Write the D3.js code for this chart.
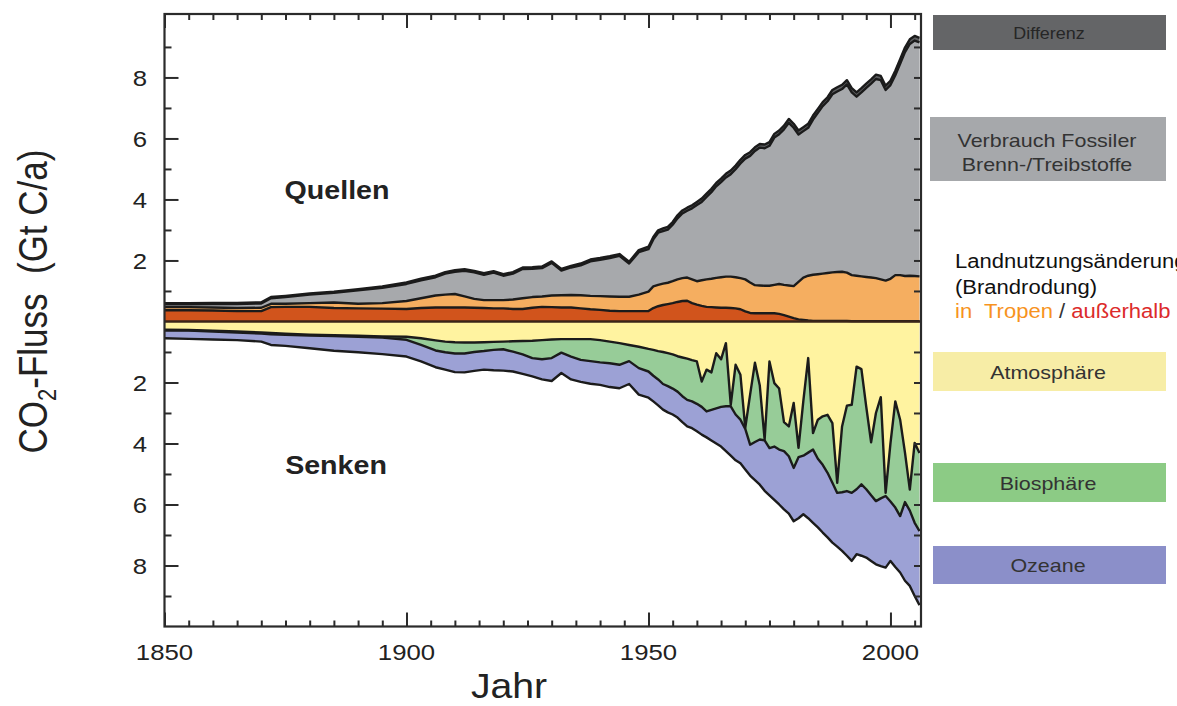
<!DOCTYPE html>
<html>
<head>
<meta charset="utf-8">
<script src="https://cdn.jsdelivr.net/npm/d3@7"></script>
<style>
	body { margin: 0; background: #fff; }
	svg { display: block; }
	text { font-family: "Liberation Sans", Arial, Helvetica, sans-serif; }
</style>
</head>
<body>
<svg id="chart" width="1177" height="706"></svg>
<script>
// Jahre (bis 1950 grob, danach jährlich)
var years = [1850,1855,1860,1865,1870,1872,1875,1880,1885,1890,1895,1900,1903,1906,
	1908,1910,1912,1914,1916,1918,1920,1922,1924,1926,1928,1930,1932,1934,1936,1938,1940,1942,1944,1946,1948,1950,
	1951,1952,1953,1954,1955,1956,1957,1958,1959,1960,
	1961,1962,1963,1964,1965,1966,1967,1968,1969,1970,
	1971,1972,1973,1974,1975,1976,1977,1978,1979,1980,
	1981,1982,1983,1984,1985,1986,1987,1988,1989,1990,
	1991,1992,1993,1994,1995,1996,1997,1998,1999,2000,
	2001,2002,2003,2004,2005,2006];

// Quellen (Gt C/a)
var ausserhalb = [.37,.37,.36,.34,.34,.47,.48,.48,.44,.43,.42,.41,.44,.46,
	.46,.46,.46,.45,.44,.43,.43,.41,.41,.45,.48,.47,.46,.46,.43,.40,.38,.35,.34,.34,.34,.34,
	.44,.50,.54,.57,.60,.64,.67,.68,.60,.55,
	.51,.48,.47,.46,.45,.45,.44,.43,.40,.33,
	.28,.27,.27,.27,.27,.27,.25,.21,.16,.11,
	.07,.05,.03,.02,.02,.02,.02,.02,.02,.02,
	.02,.01,.01,.01,.01,.01,.01,.01,.01,.01,
	.01,.01,.01,.01,.01,.01];
var tropen = [.10,.10,.10,.10,.11,.11,.10,.12,.18,.15,.18,.26,.32,.39,
	.42,.44,.36,.29,.26,.27,.27,.31,.35,.35,.34,.38,.40,.41,.43,.44,.45,.47,.47,.47,.54,.64,
	.71,.70,.70,.70,.72,.74,.75,.76,.78,.77,
	.84,.90,.93,.97,1.00,1.02,1.03,1.02,1.02,1.05,
	1.00,.92,.91,.90,.90,.93,.98,.99,1.02,1.05,
	1.23,1.39,1.47,1.51,1.53,1.55,1.57,1.59,1.60,1.61,
	1.58,1.51,1.49,1.47,1.45,1.43,1.41,1.37,1.33,1.39,
	1.51,1.51,1.48,1.49,1.48,1.47];
var fossil = [.09,.09,.11,.13,.14,.18,.22,.28,.32,.44,.50,.56,.59,.60,
	.69,.73,.84,.87,.83,.90,.80,.85,.96,.93,.93,1.07,.81,.90,.98,1.13,1.19,1.26,1.34,1.09,1.39,1.39,
	1.54,1.71,1.72,1.74,1.85,2.00,2.12,2.19,2.33,2.50,
	2.57,2.70,2.84,3.00,3.12,3.25,3.36,3.54,3.76,3.96,
	4.15,4.40,4.52,4.51,4.59,4.83,4.91,5.10,5.33,5.19,
	4.83,4.80,4.85,5.09,5.29,5.49,5.63,5.84,5.92,5.99,
	6.17,5.99,5.87,6.03,6.20,6.36,6.53,6.53,6.25,6.35,
	6.55,6.93,7.34,7.60,7.72,7.67];
var differenz = [.04,.04,.04,.04,.04,.04,.04,.04,.04,.04,.05,.05,.05,.05,
	.05,.05,.05,.05,.05,.05,.05,.05,.05,.05,.05,.05,.05,.05,.06,.06,.06,.06,.06,.06,.07,.08,
	.08,.08,.09,.09,.09,.10,.10,.10,.10,.10,
	.11,.11,.11,.11,.11,.12,.12,.12,.12,.12,
	.12,.12,.12,.12,.12,.12,.12,.12,.13,.13,
	.13,.13,.13,.13,.13,.13,.13,.14,.14,.14,
	.14,.14,.14,.14,.14,.14,.14,.14,.14,.14,
	.15,.15,.15,.15,.15,.15];

// Senken (Gt C/a)
var atmosphaere = [.27,.28,.30,.33,.36,.38,.40,.43,.45,.47,.49,.50,.55,.62,
	.66,.68,.69,.69,.68,.67,.66,.65,.64,.63,.61,.59,.58,.58,.58,.58,.61,.66,.71,.77,.83,.90,
	.93,.97,1.00,1.04,1.08,1.14,1.18,1.22,1.27,1.31,
	1.97,1.58,1.67,1.04,1.24,.71,2.73,1.42,1.75,3.49,
	2.40,1.35,2.10,3.87,1.31,2.02,2.20,3.30,3.44,2.67,
	4.14,2.60,1.20,3.66,3.22,3.11,3.06,3.33,5.29,3.44,
	2.76,2.73,1.48,1.56,2.80,3.96,3.00,2.48,5.62,4.00,
	2.62,3.22,4.30,5.51,3.98,4.31];
var biosphaere = [.03,.02,.03,.03,.04,.04,.04,.03,.03,.03,.04,.10,.22,.33,
	.35,.37,.36,.31,.29,.26,.25,.34,.44,.57,.63,.61,.44,.57,.68,.72,.73,.71,.71,.53,.70,.74,
	.85,.93,1.05,1.08,1.12,1.16,1.27,1.35,1.35,1.39,
	.83,1.37,1.23,1.81,1.56,2.07,.05,1.63,1.47,.03,
	1.64,2.60,1.77,.03,2.84,2.08,2.00,.95,.98,2.13,
	.31,1.80,3.10,.54,1.28,1.59,1.90,1.96,.33,2.16,
	2.80,2.89,4.02,3.78,2.70,1.74,2.89,3.32,.10,1.90,
	3.48,3.16,1.62,.69,2.62,2.56];
var ozeane = [.25,.27,.26,.25,.26,.35,.36,.42,.48,.51,.54,.55,.54,.55,
	.57,.61,.62,.62,.61,.67,.70,.65,.64,.60,.66,.75,.67,.75,.72,.74,.74,.78,.77,.75,.87,.86,
	.84,.85,.84,.86,.85,.85,.85,.87,.88,.90,
	.91,.85,1.00,1.15,1.30,1.47,1.62,1.50,1.43,1.33,
	1.01,1.25,1.48,1.65,1.55,1.75,1.80,1.91,1.88,1.75,
	2.00,1.92,2.15,2.40,2.25,2.22,2.12,1.96,1.76,1.92,
	2.12,2.23,2.13,2.34,2.24,2.15,2.07,2.22,2.35,1.95,
	1.95,1.85,2.58,2.47,2.40,2.43];

// Achsenbeschriftung
var xTickLabels = [1850, 1900, 1950, 2000];
var yTickLabels = [8, 6, 4, 2, -2, -4, -6, -8];

var fills = {
	ausserhalb: "#d1541c",
	tropen: "#f5ae60",
	fossil: "#a7a9ac",
	differenz: "#5e5f61",
	atmosphaere: "#fff3a0",
	biosphaere: "#97cc98",
	ozeane: "#9ca1d5"
};

var plotLeft = 164.5, plotRight = 921, plotTop = 14, plotBottom = 626.5;

var x = d3.scaleLinear().domain([1850, 2006]).range([plotLeft, 919.5]);
var y = d3.scaleLinear().domain([-10, 10.08]).range([plotBottom, plotTop]);

var svg = d3.select("#chart");

var rows = years.map(function(yr, i) {
	return {
		year: yr,
		ausserhalb: ausserhalb[i], tropen: tropen[i], fossil: fossil[i], differenz: differenz[i],
		atmosphaere: atmosphaere[i], biosphaere: biosphaere[i], ozeane: ozeane[i]
	};
});

var quellen = d3.stack().keys(["ausserhalb", "tropen", "fossil", "differenz"])(rows);
var senken = d3.stack().keys(["atmosphaere", "biosphaere", "ozeane"])(rows);

svg.append("clipPath").attr("id", "plotclip")
	.append("rect")
	.attr("x", plotLeft).attr("y", plotTop)
	.attr("width", plotRight - plotLeft).attr("height", plotBottom - plotTop);

var plot = svg.append("g").attr("clip-path", "url(#plotclip)");

function areaFor(sign) {
	return d3.area()
		.x(function(d) { return x(d.data.year); })
		.y0(function(d) { return y(sign * d[0]); })
		.y1(function(d) { return y(sign * d[1]); });
}
function lineFor(sign) {
	return d3.line()
		.x(function(d) { return x(d.data.year); })
		.y(function(d) { return y(sign * d[1]); });
}

// Flächen
plot.selectAll(".quelle").data(quellen).enter().append("path")
	.attr("class", "quelle")
	.attr("d", areaFor(1))
	.attr("fill", function(d) { return fills[d.key]; });
plot.selectAll(".senke").data(senken).enter().append("path")
	.attr("class", "senke")
	.attr("d", areaFor(-1))
	.attr("fill", function(d) { return fills[d.key]; });

// Randlinien
plot.selectAll(".qline").data(quellen).enter().append("path")
	.attr("d", lineFor(1))
	.attr("fill", "none").attr("stroke", "#1b1b1b")
	.attr("stroke-width", 2.4).attr("stroke-linejoin", "round");
plot.selectAll(".sline").data(senken).enter().append("path")
	.attr("d", lineFor(-1))
	.attr("fill", "none").attr("stroke", "#1b1b1b")
	.attr("stroke-width", 2.4).attr("stroke-linejoin", "round");

// Nulllinie
plot.append("line")
	.attr("x1", plotLeft).attr("x2", plotRight)
	.attr("y1", y(0)).attr("y2", y(0))
	.attr("stroke", "#3a2418").attr("stroke-width", 2.5);

// Achsen (Ticks nach innen)
function styleAxis(g) {
	g.select(".domain").remove();
	g.selectAll("line").attr("stroke", "#2b2b2b").attr("stroke-width", 2);
}
var minorYears = d3.range(1855, 2006, 5).filter(function(v) { return v % 50 !== 0; });
var yMinor = [9, 7, 5, 3, 1, -1, -3, -5, -7, -9];
var yAll = yTickLabels.concat(yMinor);

svg.append("g").attr("transform", "translate(0," + plotBottom + ")")
	.call(d3.axisBottom(x).tickValues(minorYears).tickSize(-6).tickFormat("")).call(styleAxis);
svg.append("g").attr("transform", "translate(0," + plotBottom + ")")
	.call(d3.axisBottom(x).tickValues(xTickLabels).tickSize(-14).tickFormat("")).call(styleAxis);
svg.append("g").attr("transform", "translate(0," + plotTop + ")")
	.call(d3.axisTop(x).tickValues(minorYears).tickSize(-6).tickFormat("")).call(styleAxis);
svg.append("g").attr("transform", "translate(0," + plotTop + ")")
	.call(d3.axisTop(x).tickValues(xTickLabels).tickSize(-14).tickFormat("")).call(styleAxis);
svg.append("g").attr("transform", "translate(" + plotLeft + ",0)")
	.call(d3.axisLeft(y).tickValues(yTickLabels).tickSize(-14).tickFormat("")).call(styleAxis);
svg.append("g").attr("transform", "translate(" + plotLeft + ",0)")
	.call(d3.axisLeft(y).tickValues(yMinor).tickSize(-7).tickFormat("")).call(styleAxis);
svg.append("g").attr("transform", "translate(" + plotRight + ",0)")
	.call(d3.axisRight(y).tickValues(yAll).tickSize(-7).tickFormat("")).call(styleAxis);

// Rahmen
svg.append("rect")
	.attr("x", plotLeft).attr("y", plotTop)
	.attr("width", plotRight - plotLeft).attr("height", plotBottom - plotTop)
	.attr("fill", "none").attr("stroke", "#2b2b2b").attr("stroke-width", 2.2);

// Text leicht in die Breite gezogen wie im Original
function stretched(px, py, sx, size) {
	return svg.append("text")
		.attr("transform", "translate(" + px + "," + py + ") scale(" + sx + ",1)")
		.attr("font-size", size)
		.attr("fill", "#222");
}

xTickLabels.forEach(function(v) {
	stretched(x(v), 660, 1.12, 23).attr("text-anchor", "middle").text(v);
});
yTickLabels.forEach(function(v) {
	stretched(147, y(v) + 8.3, 1.12, 23).attr("text-anchor", "end").text(Math.abs(v));
});

stretched(509, 698, 1.12, 35).attr("text-anchor", "middle").text("Jahr");

var yt = svg.append("text")
	.attr("transform", "translate(47,301.5) scale(1.15,1) rotate(-90)")
	.attr("font-size", 35).attr("fill", "#222")
	.attr("text-anchor", "middle")
	.style("white-space", "pre");
yt.append("tspan").text("CO");
yt.append("tspan").attr("font-size", 22).attr("dy", 8).text("2");
yt.append("tspan").attr("dy", -8).text("-Fluss  (Gt C/a)");

stretched(337, 199, 1.1, 26).attr("text-anchor", "middle").attr("font-weight", "bold").text("Quellen");
stretched(336, 474, 1.1, 26).attr("text-anchor", "middle").attr("font-weight", "bold").text("Senken");

// Legende
svg.append("rect").attr("x", 933).attr("y", 15).attr("width", 233).attr("height", 35).attr("fill", "#646567");
stretched(1049, 38.5, 1.12, 16).attr("text-anchor", "middle").attr("fill", "#262626").text("Differenz");

svg.append("rect").attr("x", 930).attr("y", 117).attr("width", 236).attr("height", 64).attr("fill", "#a6a8ab");
stretched(1047, 146.5, 1.13, 19).attr("text-anchor", "middle").attr("fill", "#333").text("Verbrauch Fossiler");
stretched(1047, 170.5, 1.13, 19).attr("text-anchor", "middle").attr("fill", "#333").text("Brenn-/Treibstoffe");

stretched(955, 268, 1.13, 19.5).attr("fill", "#111").text("Landnutzungsänderung");
stretched(955, 294, 1.13, 19.5).attr("fill", "#111").text("(Brandrodung)");
var lt = stretched(955, 318, 1.13, 19.5).style("white-space", "pre");
lt.append("tspan").attr("fill", "#f7931e").text("in  Tropen");
lt.append("tspan").attr("fill", "#333").text(" / ");
lt.append("tspan").attr("fill", "#dc2b2b").text("außerhalb");

svg.append("rect").attr("x", 933).attr("y", 352).attr("width", 233).attr("height", 39).attr("fill", "#f7eda6");
stretched(1048, 378.5, 1.13, 19).attr("text-anchor", "middle").attr("fill", "#333").text("Atmosphäre");

svg.append("rect").attr("x", 933).attr("y", 463).attr("width", 233).attr("height", 39).attr("fill", "#8ccb85");
stretched(1048, 489.5, 1.13, 19).attr("text-anchor", "middle").attr("fill", "#333").text("Biosphäre");

svg.append("rect").attr("x", 933).attr("y", 546).attr("width", 233).attr("height", 38).attr("fill", "#8b8fc9");
stretched(1048, 572, 1.13, 19).attr("text-anchor", "middle").attr("fill", "#333").text("Ozeane");
</script>
</body>
</html>
